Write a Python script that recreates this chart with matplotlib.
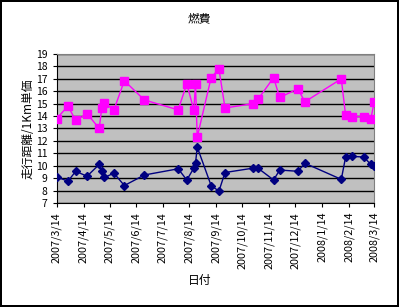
import matplotlib
matplotlib.use("Agg")
import matplotlib.pyplot as plt
import matplotlib.dates as mdates
import pandas as pd

plt.rcParams['font.family'] = ['Noto Sans CJK JP', 'DejaVu Sans']

title = "燃費"
xlabel = "日付"
ylabel = "走行距離/1Km単価"

dates = ["2007-03-14", "2007-03-27", "2007-04-05", "2007-04-18", "2007-05-02",
         "2007-05-05", "2007-05-08", "2007-05-19", "2007-05-31", "2007-06-23",
         "2007-08-01", "2007-08-11", "2007-08-19", "2007-08-21", "2007-08-23",
         "2007-09-08", "2007-09-17", "2007-09-24", "2007-10-26", "2007-11-01",
         "2007-11-19", "2007-11-26", "2007-12-17", "2007-12-25", "2008-02-05",
         "2008-02-10", "2008-02-17", "2008-03-02", "2008-03-10", "2008-03-14"]

series_navy = [9.1, 8.75, 9.55, 9.15, 10.1, 9.55, 9.05, 9.4, 8.4, 9.25,
               9.75, 8.85, 9.8, 10.2, 11.5, 8.4, 7.95, 9.45, 9.8, 9.8,
               8.85, 9.65, 9.55, 10.2, 8.9, 10.7, 10.75, 10.7, 10.1, 10.0]

series_pink = [13.8, 14.8, 13.65, 14.2, 13.0, 14.65, 15.05, 14.5, 16.85, 15.3,
               14.5, 16.6, 14.5, 16.55, 12.3, 17.1, 17.8, 14.65, 15.0, 15.35,
               17.1, 15.5, 16.2, 15.15, 17.0, 14.05, 13.95, 13.95, 13.75, 15.15]

tick_dates = ["2007-03-14", "2007-04-14", "2007-05-14", "2007-06-14", "2007-07-14",
              "2007-08-14", "2007-09-14", "2007-10-14", "2007-11-14", "2007-12-14",
              "2008-01-14", "2008-02-14", "2008-03-14"]
tick_labels = ["2007/3/14", "2007/4/14", "2007/5/14", "2007/6/14", "2007/7/14",
               "2007/8/14", "2007/9/14", "2007/10/14", "2007/11/14", "2007/12/14",
               "2008/1/14", "2008/2/14", "2008/3/14"]

x = pd.to_datetime(dates)
xt = pd.to_datetime(tick_dates)

fig = plt.figure(figsize=(3.99, 3.07), dpi=100)
fig.patch.set_facecolor("white")
fig.patch.set_edgecolor("black")
fig.patch.set_linewidth(1.5)

ax = fig.add_axes([0.142, 0.339, 0.796, 0.485])
ax.set_facecolor("#C0C0C0")

ax.plot(x, series_navy, color="#000080", lw=1, marker="D", markersize=4.5,
        markerfacecolor="#000080", markeredgecolor="#000080", zorder=3)
ax.plot(x, series_pink, color="#FF00FF", lw=1, marker="s", markersize=5.5,
        markerfacecolor="#FF00FF", markeredgecolor="#FF00FF", zorder=3)

ax.set_ylim(7, 19)
ax.set_yticks(range(7, 20))
ax.set_xlim(xt[0], xt[-1])
ax.set_xticks(xt)
ax.set_xticklabels(tick_labels, rotation=90, fontsize=7.8)
ax.tick_params(axis='y', labelsize=7.5, length=3, width=0.8, direction='out')
ax.tick_params(axis='x', length=3, width=0.8, direction='out')

ax.yaxis.grid(True, color="black", lw=1)
ax.set_axisbelow(True)
for side in ["top", "right"]:
    ax.spines[side].set_color("#808080")
for side in ["left", "bottom"]:
    ax.spines[side].set_color("black")

fig.text(0.5, 0.94, title, ha="center", va="center", fontsize=8.5)
fig.text(0.5, 0.087, xlabel, ha="center", va="center", fontsize=8.5)
fig.text(0.07, 0.58, ylabel, ha="center", va="center", rotation=90, fontsize=8.5)

fig.savefig("out.png", dpi=100)
